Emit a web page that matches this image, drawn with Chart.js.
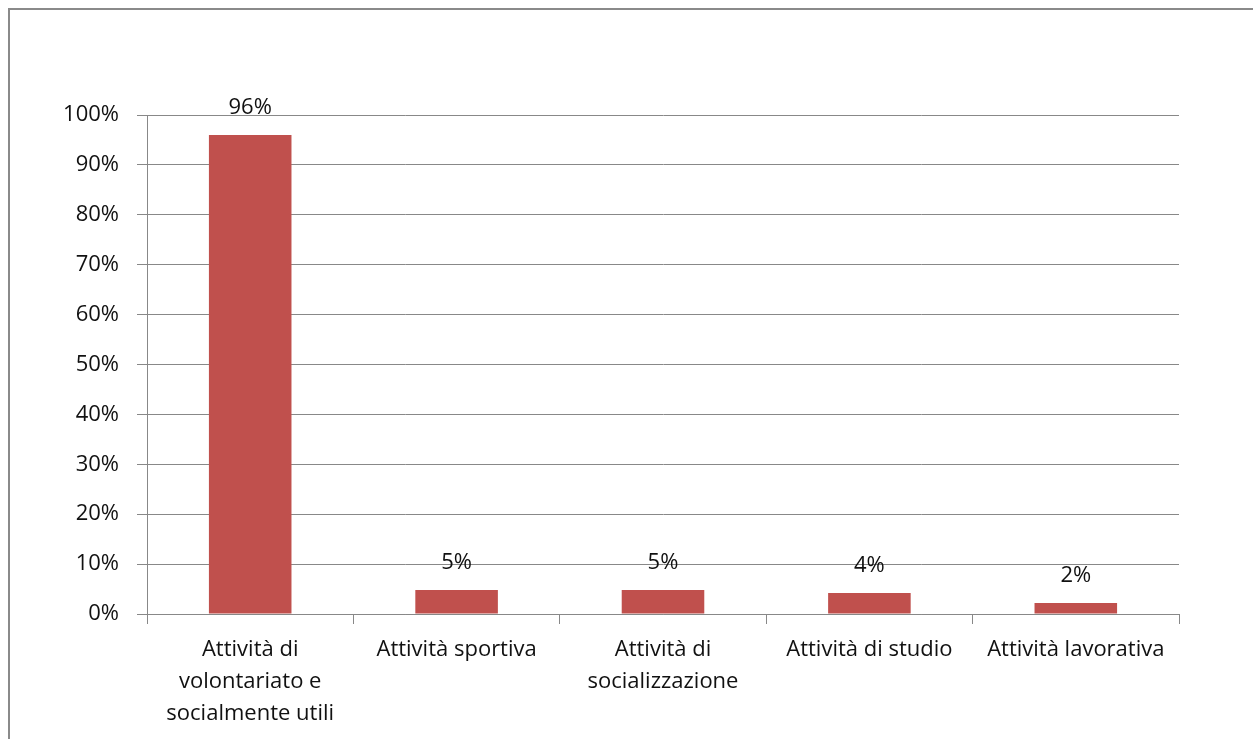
<!DOCTYPE html>
<html lang="it">
<head>
    <meta charset="UTF-8">
    <title>Attività</title>
    <script src="https://cdn.jsdelivr.net/npm/chart.js"></script>
    <style>
        body { margin: 0; background: #fff; }
        #frame { position: absolute; left: 8px; top: 8px; width: 1300px; height: 800px; border-left: 2px solid #8a8a8a; border-top: 2px solid #8a8a8a; }
        #wrap { position: absolute; left: 0; top: 0; width: 1253px; height: 739px; }
    </style>
</head>
<body>
    <div id="frame"></div>
    <div id="wrap"><canvas id="chart"></canvas></div>

    <script>
        // values
        const categories = [
            ['Attività di', 'volontariato e', 'socialmente utili'],
            'Attività sportiva',
            ['Attività di', 'socializzazione'],
            'Attività di studio',
            'Attività lavorativa'
        ];
        const percentages = [96, 4.8, 4.8, 4.2, 2.2];
        const yTicks = [0, 10, 20, 30, 40, 50, 60, 70, 80, 90, 100];

        const font = 'Open Sans';
        const textColor = '#111';
        const gridColor = '#888';

        const barLabels = {
            id: 'barLabels',
            afterDatasetsDraw(chart) {
                const ctx = chart.ctx;
                ctx.save();
                ctx.font = '22px "' + font + '"';
                ctx.fillStyle = textColor;
                ctx.textAlign = 'center';
                ctx.textBaseline = 'middle';
                chart.getDatasetMeta(0).data.forEach((bar, i) => {
                    ctx.fillText(Math.round(percentages[i]) + '%', bar.x, bar.y - 27);
                });
                ctx.restore();
            }
        };

        new Chart(document.getElementById('chart'), {
            type: 'bar',
            data: {
                labels: categories,
                datasets: [{
                    data: percentages,
                    backgroundColor: '#C0504D',
                    barPercentage: 0.4,
                    categoryPercentage: 1
                }]
            },
            options: {
                responsive: true,
                maintainAspectRatio: false,
                animation: false,
                layout: { padding: { left: 0, top: 115, right: 74, bottom: 0 } },
                plugins: { legend: { display: false }, tooltip: { enabled: false } },
                scales: {
                    x: {
                        grid: { drawOnChartArea: false, color: gridColor, tickLength: 10, offset: true },
                        border: { color: gridColor },
                        ticks: { color: textColor, font: { family: font, size: 22, lineHeight: 1.45 }, padding: 10, maxRotation: 0 },
                        afterFit(s) { s.height = 125; }
                    },
                    y: {
                        min: 0,
                        max: 100,
                        afterBuildTicks(s) { s.ticks = yTicks.map(v => ({ value: v })); },
                        grid: { color: gridColor, tickLength: 10 },
                        border: { color: gridColor },
                        ticks: { color: textColor, font: { family: font, size: 22 }, padding: 18, callback: v => v + '%' },
                        afterFit(s) { s.width = 147; }
                    }
                }
            },
            plugins: [barLabels]
        });
    </script>
</body>
</html>
